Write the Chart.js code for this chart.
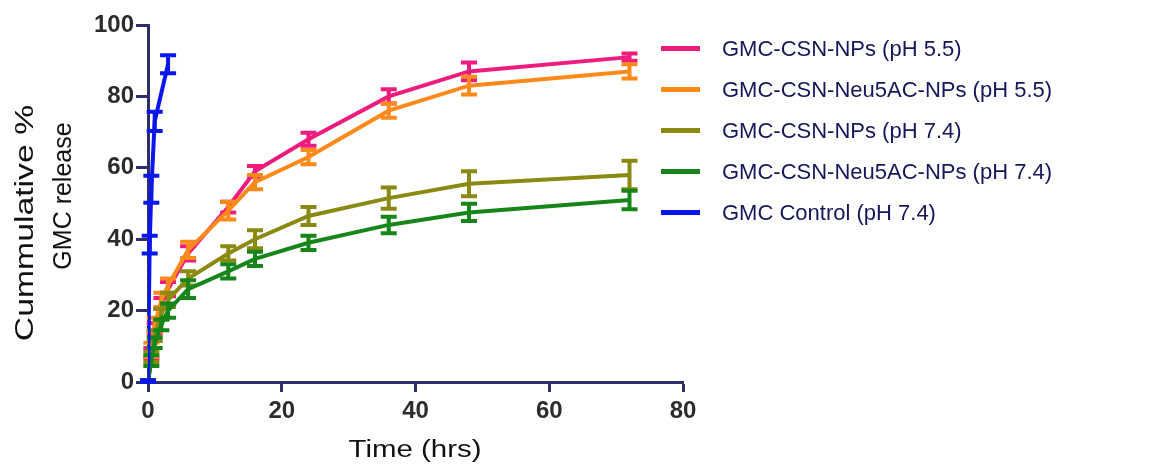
<!DOCTYPE html>
<html>
<head>
<meta charset="utf-8">
<script src="https://cdn.jsdelivr.net/npm/chart.js@4"></script>
<style>
  body { margin: 0; background: #fff; }
  #wrap { position: relative; width: 1161px; height: 464px; font-family: "Liberation Sans", Arial, sans-serif; }
  #legend { position: absolute; left: 661px; top: 28px; font-size: 22px; color: #16165a; }
  .row { display: flex; align-items: center; height: 41px; }
  .sw { width: 39px; height: 5px; margin-right: 22px; }
  .title { position: absolute; white-space: nowrap; color: #111; line-height: 1; }
</style>
</head>
<body>
<div id="wrap">
  <canvas id="c" width="1161" height="464"></canvas>
  <div id="legend"></div>
  <div class="title" id="xTitle" style="left:415px; top:449px; font-size:23px;
    transform: translate(-50%, -50%) scaleX(1.28);">Time (hrs)</div>
  <div class="title" id="yTitle1" style="left:24px; top:223px; font-size:25px;
    transform: translate(-50%, -50%) rotate(-90deg) scaleX(1.35);">Cummulative %</div>
  <div class="title" id="yTitle2" style="left:62px; top:196px; font-size:25px;
    transform: translate(-50%, -50%) rotate(-90deg);">GMC release</div>
</div>
<script>
// sampling times (hrs)
const times = [0, 0.5, 1, 2, 3, 6, 12, 16, 24, 36, 48, 72];
const controlTimes = [0, 0.25, 0.5, 1, 3];

const csnPh55 = [0, 8, 15, 22, 26, 36, 49, 59, 68, 80, 87, 91];
const csnPh55Err = [0.5, 1.5, 1.5, 1.5, 2, 2, 1.5, 1.5, 1.8, 2, 2.5, 1];
const neuPh55 = [0, 9, 16, 23, 27, 37, 48, 56, 63, 76, 83, 87];
const neuPh55Err = [0.5, 2, 2, 2, 2, 2.3, 2.5, 2, 2, 2, 2.5, 2];
const csnPh74 = [0, 7, 13, 19, 23, 29, 36, 40, 46.5, 51.5, 55.5, 58];
const csnPh74Err = [0.5, 1.5, 1.5, 1.5, 2, 2, 2, 2.5, 2.5, 3, 3.5, 4];
const neuPh74 = [0, 6, 11, 16, 20, 26, 31, 34.5, 39, 44, 47.5, 51];
const neuPh74Err = [0.5, 1.5, 1.5, 1.5, 2, 2.5, 2, 2, 2, 2.3, 2.4, 2.6];
const control = [0, 38.5, 54, 73, 89];
const controlErr = [0.5, 2.5, 3.8, 2.7, 2.5];

const labels = ['GMC-CSN-NPs (pH 5.5)', 'GMC-CSN-Neu5AC-NPs (pH 5.5)', 'GMC-CSN-NPs (pH 7.4)',
  'GMC-CSN-Neu5AC-NPs (pH 7.4)', 'GMC Control (pH 7.4)'];
const colors = ['#ee1c7c', '#ff8a1c', '#8a8a12', '#17861a', '#0a16ee'];

const xTicks = [0, 20, 40, 60, 80];
const yTicks = [0, 20, 40, 60, 80, 100];

const axisColor = '#2e2e6a';
const font = 'Liberation Sans';

function pts(xs, ys) { return xs.map((x, i) => ({ x, y: ys[i] })); }

const series = [
  [times, csnPh55, csnPh55Err],
  [times, neuPh55, neuPh55Err],
  [times, csnPh74, csnPh74Err],
  [times, neuPh74, neuPh74Err],
  [controlTimes, control, controlErr]
];

const datasets = series.map((s, i) => ({
  label: labels[i],
  data: pts(s[0], s[1]),
  err: s[2],
  borderColor: colors[i],
  backgroundColor: colors[i],
  borderWidth: 4,
  pointRadius: 0,
  tension: 0,
  order: [4, 3, 2, 1, 0][i]
}));

// error bars drawn through the chart's own scales
const errorBars = {
  id: 'errorBars',
  afterDatasetDraw(chart, args) {
    const ds = chart.data.datasets[args.index];
    const xs = chart.scales.x, ys = chart.scales.y;
    const ctx = chart.ctx;
    ctx.save();
    ctx.strokeStyle = ds.borderColor;
    ctx.lineWidth = 4;
    ds.data.forEach((p, i) => {
      const e = ds.err[i];
      const px = xs.getPixelForValue(p.x);
      const top = ys.getPixelForValue(p.y + e);
      const bot = ys.getPixelForValue(Math.max(0, p.y - e));
      ctx.beginPath();
      ctx.moveTo(px, top); ctx.lineTo(px, bot);
      ctx.moveTo(px - 8, top); ctx.lineTo(px + 8, top);
      ctx.moveTo(px - 8, bot); ctx.lineTo(px + 8, bot);
      ctx.stroke();
    });
    ctx.restore();
  }
};

new Chart(document.getElementById('c'), {
  type: 'line',
  data: { datasets },
  plugins: [errorBars],
  options: {
    responsive: false,
    animation: false,
    layout: { padding: { top: 25, right: 478, left: 0, bottom: 0 } },
    plugins: { legend: { display: false }, tooltip: { enabled: false } },
    scales: {
      x: {
        type: 'linear', min: 0, max: 80,
        afterBuildTicks: s => { s.ticks = xTicks.map(v => ({ value: v })); },
        afterFit: s => { s.height = 82; },
        border: { color: axisColor, width: 3 },
        grid: { drawOnChartArea: false, tickLength: 10, tickWidth: 3, tickColor: axisColor },
        ticks: { color: '#2c2c2c', font: { family: font, size: 24, weight: 'bold' }, padding: 5, maxRotation: 0 }
      },
      y: {
        min: 0, max: 100,
        afterBuildTicks: s => { s.ticks = yTicks.map(v => ({ value: v })); },
        afterFit: s => { s.width = 148; },
        border: { color: axisColor, width: 3 },
        grid: { drawOnChartArea: false, tickLength: 12, tickWidth: 3, tickColor: axisColor },
        ticks: { color: '#2c2c2c', font: { family: font, size: 24, weight: 'bold' }, padding: 2 }
      }
    }
  }
});

const lg = document.getElementById('legend');
labels.forEach((t, i) => {
  const r = document.createElement('div');
  r.className = 'row';
  r.innerHTML = `<div class="sw" style="background:${colors[i]}"></div><span>${t}</span>`;
  lg.appendChild(r);
});
</script>
</body>
</html>
